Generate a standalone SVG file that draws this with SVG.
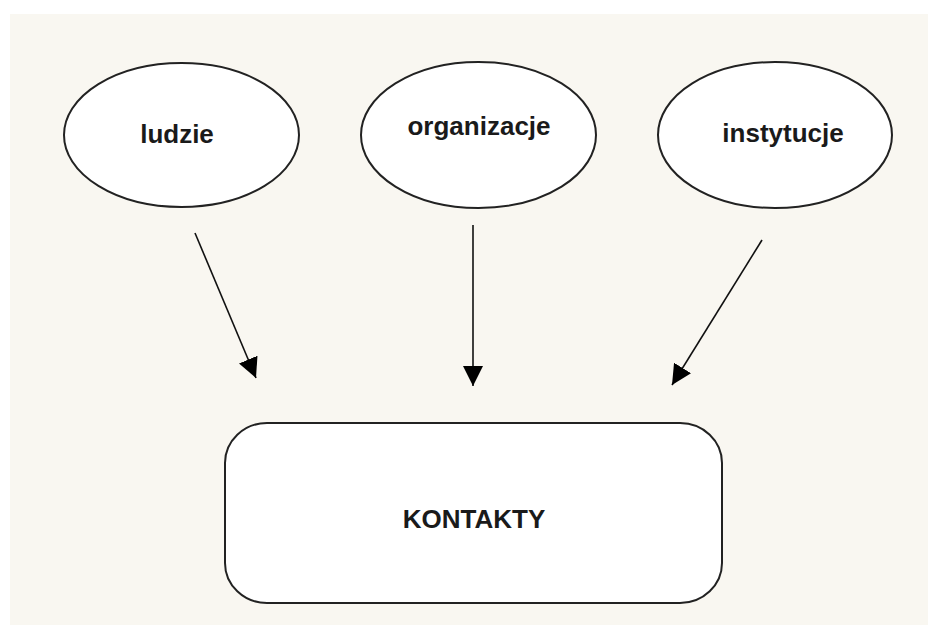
<svg xmlns="http://www.w3.org/2000/svg" width="928" height="625" viewBox="0 0 928 625">
<defs>
<style>
.node{fill:#ffffff;stroke:#222;stroke-width:2}
.lbl{font-family:"Liberation Sans",Arial,sans-serif;font-weight:bold;font-size:26px;fill:#1a1a1a;text-anchor:middle}
.edge{stroke:#111;stroke-width:1.6;fill:none}
</style>
<marker id="ah" viewBox="0 0 20 20" refX="20" refY="10" markerWidth="20" markerHeight="20" markerUnits="userSpaceOnUse" orient="auto">
<path d="M0,0 L20,10 L0,20 Z" fill="#000"/>
</marker>
</defs>
<rect x="0" y="0" width="928" height="625" fill="#ffffff"/>
<rect x="10" y="14" width="918" height="611" fill="#f9f7f1"/>
<g id="ludzie">
<ellipse class="node" cx="181.5" cy="135" rx="117.5" ry="72"/>
<text class="lbl" x="177" y="143">ludzie</text>
</g>
<g id="organizacje">
<ellipse class="node" cx="478.5" cy="135" rx="117.5" ry="73"/>
<text class="lbl" x="479" y="135">organizacje</text>
</g>
<g id="instytucje">
<ellipse class="node" cx="775" cy="135" rx="117" ry="73"/>
<text class="lbl" x="783" y="142">instytucje</text>
</g>
<g id="kontakty">
<rect class="node" x="225" y="423" width="497" height="180" rx="42" ry="40"/>
<text class="lbl" x="474" y="528" font-size="25">KONTAKTY</text>
</g>
<g id="connectors">
<line class="edge" x1="195" y1="233" x2="256" y2="378" marker-end="url(#ah)"/>
<line class="edge" x1="473" y1="225" x2="473" y2="386" marker-end="url(#ah)"/>
<line class="edge" x1="762" y1="240" x2="672" y2="385" marker-end="url(#ah)"/>
</g>
</svg>
